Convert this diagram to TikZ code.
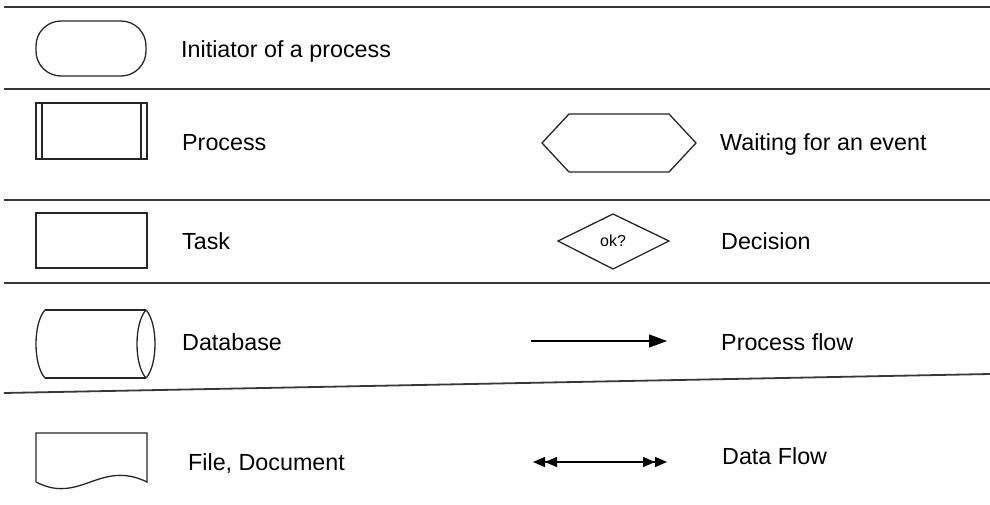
\documentclass[tikz,border=0pt]{standalone}
\usepackage{fontspec}
\setmainfont{Liberation Sans}
\usetikzlibrary{arrows.meta}
\begin{document}
\begin{tikzpicture}[x=1pt,y=-1pt,
  sep/.style={draw=black!78,line width=1.8pt},
  shape line/.style={draw=black!85,line width=1.3pt},
  label/.style={anchor=base west,inner sep=0pt,font=\fontsize{23.3}{28}\selectfont},
  flow/.style={line width=1.3pt,-{Triangle[length=18pt,width=13pt]}},
  dflow/.style={line width=1.3pt,
    {Triangle[length=12pt,width=10pt]Triangle[length=12pt,width=10pt]}-{Triangle[length=12pt,width=10pt]Triangle[length=12pt,width=10pt]}}]
\useasboundingbox (0,0) rectangle (990,505);

% row separators
\foreach \y in {7,89,200,283}
  \draw[sep] (4,\y) -- (990,\y);
\draw[sep] (4,393) -- (990,374);

% terminator
\draw[shape line,rounded corners=25pt] (36,21) rectangle (146,76);
\node[label] (tInit) at (181,58) {Initiator of a process};

% predefined process
\draw[shape line] (36,103) rectangle (147,159);
\draw[shape line] (42,103) -- (42,159) (141,103) -- (141,159);
\node[label] (tProc) at (182,151) {Process};

% waiting hexagon
\draw[shape line] (542,143) -- (569,114) -- (669,114) -- (696,143) -- (669,172) -- (569,172) -- cycle;
\node[label] (tWait) at (720,151) {Waiting for an event};

% task
\draw[shape line] (36,213) rectangle (147,268);
\node[label] (tTask) at (182,249) {Task};

% decision diamond
\draw[shape line] (558,241) -- (613,214) -- (669,241) -- (613,269) -- cycle;
\node[inner sep=0pt,font=\fontsize{16}{18}\selectfont] (ok) at (613,241) {ok?};
\node[label] (tDec) at (721,249) {Decision};

% database cylinder
\draw[shape line] (45,310) -- (146,310) (45,378) -- (146,378);
\draw[shape line] (45,310) .. controls (33,323) and (33,365) .. (45,378);
\draw[shape line] (146,310) .. controls (134,323) and (134,365) .. (146,378);
\draw[shape line] (146,310) .. controls (158,323) and (158,365) .. (146,378);
\node[label] (tDb) at (182,350) {Database};

% process flow
\coordinate (pf1) at (531,341);
\coordinate (pf2) at (667,341);
\draw[flow] (pf1) -- (pf2);
\node[label] (tPf) at (721,350) {Process flow};

% document
\draw[shape line] (36,482) -- (36,433) -- (147,433) -- (147,482)
  .. controls (100,459) and (80,505) .. (36,482);
\node[label] (tDoc) at (188,470) {File, Document};

% data flow
\coordinate (df1) at (533,462);
\coordinate (df2) at (667,462);
\draw[dflow] (df1) -- (df2);
\node[label] (tDf) at (722,464) {Data Flow};
\end{tikzpicture}
\end{document}
